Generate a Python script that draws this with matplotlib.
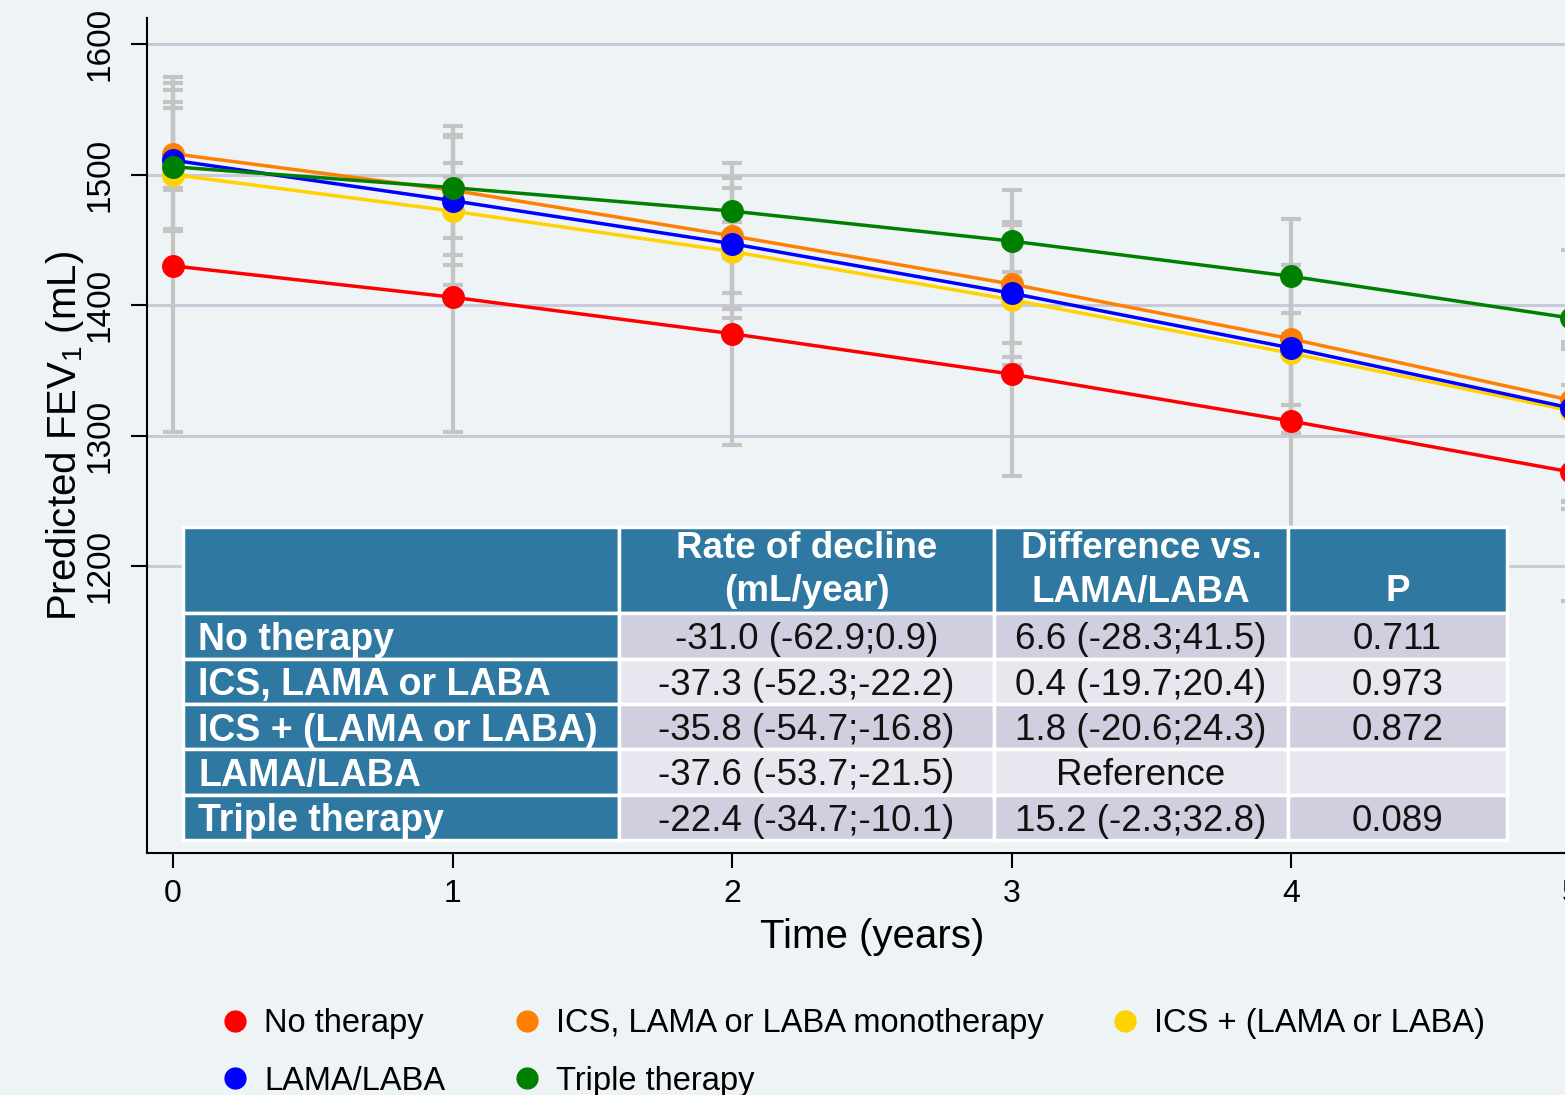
import matplotlib
matplotlib.use('Agg')
import matplotlib.pyplot as plt
import matplotlib.transforms as mtransforms
from matplotlib.lines import Line2D

plt.rcParams['font.family'] = ['Liberation Sans', 'DejaVu Sans']
plt.rcParams['mathtext.fontset'] = 'custom'
plt.rcParams['mathtext.rm'] = 'Liberation Sans'

# data
years = [0, 1, 2, 3, 4, 5]
groups = ['No therapy', 'ICS, LAMA or LABA monotherapy', 'ICS + (LAMA or LABA)',
          'LAMA/LABA', 'Triple therapy']
colors = ['#ff0000', '#ff8000', '#ffd200', '#0000ff', '#008000']

fev_mean = [
    [1430, 1406, 1378, 1347, 1311, 1272],   # no therapy
    [1516, 1488, 1453, 1416, 1374, 1327],   # ICS, LAMA or LABA
    [1500, 1472, 1441, 1404, 1363, 1319],   # ICS + (LAMA or LABA)
    [1511, 1480, 1447, 1409, 1367, 1321],   # LAMA/LABA
    [1506, 1490, 1472, 1449, 1422, 1390],   # triple
]
fev_low = [
    [1303, 1303, 1293, 1269, 1228, 1173],
    [1458, 1438, 1409, 1371, 1323, 1249],
    [1490, 1415, 1390, 1360, 1310, 1244],
    [1457, 1431, 1397, 1354, 1302, 1250],
    [1488, 1451, 1436, 1410, 1378, 1339],
]
fev_high = [
    [1556, 1509, 1464, 1425, 1394, 1369],
    [1575, 1537, 1498, 1464, 1431, 1372],
    [1551, 1530, 1490, 1445, 1420, 1366],
    [1565, 1529, 1497, 1461, 1431, 1368],
    [1570, 1498, 1509, 1488, 1466, 1442],
]

# table
tbl_header = ['', 'Rate of decline\n(mL/year)', 'Difference vs.\nLAMA/LABA', '\nP']
tbl_groups = ['No therapy', 'ICS, LAMA or LABA', 'ICS + (LAMA or LABA)', 'LAMA/LABA',
              'Triple therapy']
tbl_rate = ['-31.0 (-62.9;0.9)', '-37.3 (-52.3;-22.2)', '-35.8 (-54.7;-16.8)',
            '-37.6 (-53.7;-21.5)', '-22.4 (-34.7;-10.1)']
tbl_diff = ['6.6 (-28.3;41.5)', '0.4 (-19.7;20.4)', '1.8 (-20.6;24.3)', 'Reference',
            '15.2 (-2.3;32.8)']
tbl_p = ['0.711', '0.973', '0.872', '', '0.089']

bg = '#eef3f6'
W, H = 1565, 1095
fig = plt.figure(figsize=(W / 100, H / 100), dpi=100, facecolor=bg)
ax = fig.add_axes([147 / W, 242 / H, 1480 / W, 835 / H])
ax.set_facecolor(bg)

for lo, hi, m in zip(fev_low, fev_high, fev_mean):
    err = [[mm - l for mm, l in zip(m, lo)], [h - mm for mm, h in zip(m, hi)]]
    ax.errorbar(years, m, yerr=err, fmt='none', ecolor='#c4c4c4', elinewidth=3,
                capsize=7.5, capthick=3, zorder=2)

for m, c in zip(fev_mean, colors):
    ax.plot(years, m, color=c, lw=2.5, marker='o', markersize=15.5, zorder=3,
            clip_on=False)

ax.set_xlim(-0.093, 5.2)
ax.set_ylim(980, 1620)
ax.set_yticks([1200, 1300, 1400, 1500, 1600])
ax.set_xticks(years)
ax.grid(axis='y', color='#c9c9d9', lw=2.2, zorder=0)
ax.set_axisbelow(True)
for s in ['top', 'right']:
    ax.spines[s].set_visible(False)
for s in ['left', 'bottom']:
    ax.spines[s].set_linewidth(1.5)
ax.tick_params(axis='y', length=11.5, width=1.5, pad=11, labelsize=24, labelrotation=90)
ax.tick_params(axis='x', length=11, width=1.5, pad=8, labelsize=23)
for t in ax.get_yticklabels():
    t.set_va('center')

ax.set_xlabel('Time (years)', fontsize=29)
ax.xaxis.set_label_coords(2.5, -0.078,
                          transform=mtransforms.blended_transform_factory(ax.transData, ax.transAxes))
ax.set_ylabel('Predicted FEV$_\\mathregular{1}$ (mL)', fontsize=29)
ax.yaxis.set_label_coords(-0.041, 0.5)

# table inset
tax = fig.add_axes([183 / W, (H - 840) / H, 1324 / W, 313 / H])
tax.axis('off')
head_c = '#2e78a2'
row_c = ['#cfcfe0', '#e7e8ef']
cells = [tbl_header] + [[g, r, d, p] for g, r, d, p in zip(tbl_groups, tbl_rate, tbl_diff, tbl_p)]
cols = [[head_c] * 4] + [[head_c] + [row_c[i % 2]] * 3 for i in range(len(tbl_groups))]
tb = tax.table(cellText=cells, cellColours=cols, cellLoc='center',
               colWidths=[436, 375, 294, 219], bbox=[0, 0, 1, 1])
tb.auto_set_font_size(False)
for (r, c), cell in tb.get_celld().items():
    cell.set_edgecolor('white')
    cell.set_linewidth(2.5)
    txt = cell.get_text()
    if r == 0:
        cell.set_height(1.9)
        txt.set_fontsize(26.5)
        txt.set_color('white')
        txt.set_fontweight('bold')
        txt.set_linespacing(1.3)
        txt.set_va('center')
    else:
        cell.set_height(1.0)
        txt.set_va('center_baseline')
        if c == 0:
            txt.set_ha('left')
            cell.PAD = 0.035
            txt.set_fontsize(27)
            txt.set_color('white')
            txt.set_fontweight('bold')
        else:
            txt.set_fontsize(26.5)
            txt.set_color('#111111')

# legend, row-major order
order = [0, 3, 1, 4, 2]
handles = [Line2D([], [], marker='o', ls='none', markersize=15, color=colors[i]) for i in order]
fig.legend(handles, [groups[i] for i in order], ncol=3, loc='upper left',
           bbox_to_anchor=(218.7 / W, 0.079), frameon=False, fontsize=23.5,
           handlelength=1.0, handletextpad=0.39, columnspacing=2.0,
           labelspacing=0.8, borderpad=0, borderaxespad=0)

fig.savefig('out.png', dpi=100, facecolor=bg)
